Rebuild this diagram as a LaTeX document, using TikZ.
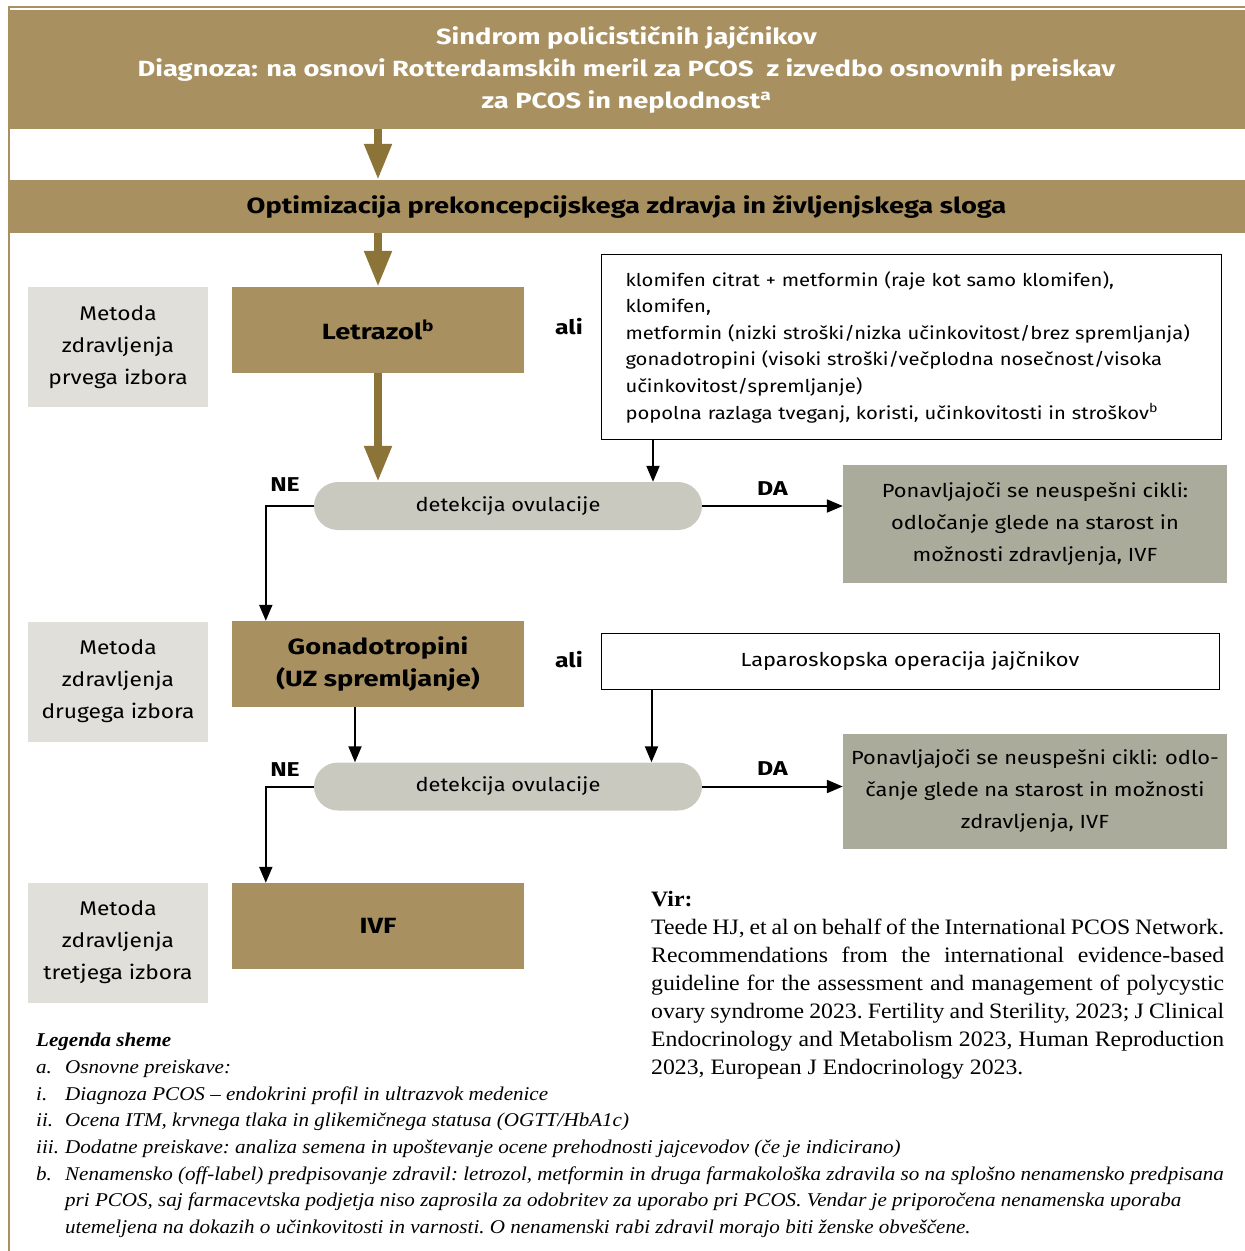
\documentclass[tikz,border=0pt]{standalone}
\usepackage{fontspec}
\setmainfont{Fira Sans}[FakeStretch=1.15, BoldFeatures={FakeStretch=1.24}]
\newfontfamily\virfont{Liberation Serif}[FakeStretch=1.08]
\usetikzlibrary{arrows.meta,positioning}

\definecolor{zlato}{HTML}{A89060}
\definecolor{zlatotemno}{HTML}{8C7338}
\definecolor{sivasvetla}{HTML}{E0DFD9}
\definecolor{sivapil}{HTML}{C9C9BF}
\definecolor{sivarez}{HTML}{ABAB9C}

\tikzset{
 glava/.style={fill=zlato, text=white, inner sep=0pt, align=center,
   minimum width=1237pt, minimum height=119pt,
   font=\fontsize{22}{32}\selectfont\bfseries},
 pas/.style={fill=zlato, inner sep=0pt, minimum width=1237pt, minimum height=53pt,
   font=\fontsize{22}{26}\selectfont\bfseries},
 metoda/.style={fill=sivasvetla, inner sep=0pt, align=center,
   minimum width=180pt, minimum height=120pt, font=\fontsize{19.8}{32}\selectfont},
 zdravilo/.style={fill=zlato, inner sep=0pt, align=center,
   minimum width=292pt, minimum height=86pt, font=\fontsize{22}{32}\selectfont\bfseries},
 okvir/.style={draw=black, line width=1pt, inner sep=0pt},
 detekcija/.style={fill=sivapil, rounded corners=24pt, inner sep=0pt,
   minimum width=388pt, minimum height=48pt, font=\fontsize{19}{24}\selectfont},
 izid/.style={fill=sivarez, inner sep=0pt, align=center,
   minimum width=384pt, font=\fontsize{19}{32}\selectfont},
 odg/.style={font=\fontsize{20}{24}\selectfont\bfseries, inner sep=0pt},
 zlpusc/.style={draw=zlatotemno, line width=8pt, -{Triangle[width=26pt,length=36pt]}},
 crpusc/.style={draw=black, line width=2pt, -{Triangle[width=13pt,length=16pt]}},
}

\begin{document}
\begin{tikzpicture}[x=1pt,y=-1pt]
 \useasboundingbox (0,0) rectangle (1245,1251);
 \draw[zlato, line width=2pt] (8.5,1251) -- (8.5,7) -- (1245,7);
 %
 \node[glava] (diag) at (626.5,69.5) {Sindrom policističnih jajčnikov\\
   Diagnoza: na osnovi Rotterdamskih meril za PCOS\ \ z izvedbo osnovnih preiskav\\
   za PCOS in neplodnost\textsuperscript{a}};
 \node[pas] (opt) at (626.5,206.5) {Optimizacija prekoncepcijskega zdravja in življenjskega sloga};
 %
 \node[metoda] (met1) at (118,347) {Metoda\\zdravljenja\\prvega izbora};
 \node[metoda] (met2) at (118,681.5) {Metoda\\zdravljenja\\drugega izbora};
 \node[metoda] (met3) at (118,942.5) {Metoda\\zdravljenja\\tretjega izbora};
 %
 \node[zdravilo] (letr) at (378,330) {Letrazol\textsuperscript{b}};
 \node[zdravilo] (gon) at (378,664) {Gonadotropini\\(UZ spremljanje)};
 \node[zdravilo] (ivf) at (378,926) {IVF};
 %
 \node[odg] (ali1) at (569,327) {ali};
 \node[odg] (ali2) at (569,660) {ali};
 %
 \node[okvir, anchor=north west, minimum height=185pt, text width=572pt,
   inner xsep=24pt, align=left, font=\fontsize{17.6}{26.6}\selectfont] (moz1) at (601,254)
   {klomifen citrat + metformin (raje kot samo klomifen),\\
    klomifen,\\
    metformin (nizki stroški/nizka učinkovitost/brez spremljanja)\\
    gonadotropini (visoki stroški/večplodna nosečnost/visoka\\
    učinkovitost/spremljanje)\\
    popolna razlaga tveganj, koristi, učinkovitosti in stroškov\textsuperscript{b}};
 \node[okvir, minimum width=618pt, minimum height=56pt,
   font=\fontsize{19}{24}\selectfont] (lap) at (910,661) {Laparoskopska operacija jajčnikov};
 %
 \node[detekcija] (pil1) at (508,506) {detekcija ovulacije};
 \node[detekcija] (pil2) at (508,786.5) {detekcija ovulacije};
 %
 \node[izid, minimum height=118pt] (rez1) at (1035,524)
   {Ponavljajoči se neuspešni cikli:\\odločanje glede na starost in\\možnosti zdravljenja, IVF};
 \node[izid, minimum height=115pt] (rez2) at (1035,791.5)
   {Ponavljajoči se neuspešni cikli: odlo-\\čanje glede na starost in možnosti\\zdravljenja, IVF};
 %
 \draw[zlpusc] (diag.south -| letr.north) -- (opt.north -| letr.north);
 \draw[zlpusc] (opt.south -| letr.north) -- (letr.north);
 \draw[zlpusc] (letr.south) -- (letr.south |- pil1.north);
 %
 \draw[crpusc] ([xshift=52pt]moz1.south west) -- ([xshift=52pt]moz1.south west |- pil1.north);
 \draw[crpusc] (pil1.east) -- node[odg, above=10pt]{DA} (pil1.east -| rez1.west);
 \draw[crpusc] (pil1.west) -| node[odg, pos=0.3, above=14pt]{NE} ([xshift=34pt]gon.north west);
 %
 \draw[crpusc] ([xshift=-23pt]gon.south) -- ([xshift=-23pt]gon.south |- pil2.north);
 \draw[crpusc] ([xshift=51pt]lap.south west) -- ([xshift=51pt]lap.south west |- pil2.north);
 \draw[crpusc] (pil2.east) -- node[odg, above=10pt]{DA} (pil2.east -| rez2.west);
 \draw[crpusc] (pil2.west) -| node[odg, pos=0.3, above=9pt]{NE} ([xshift=34pt]ivf.north west);
 %
 \node[anchor=north west, inner sep=0pt, text width=573pt, align=justify,
   font=\virfont\fontsize{22}{28}\selectfont\frenchspacing] (vir) at (651,891)
   {\textbf{Vir:}\\
    Teede HJ, et al on behalf of the International PCOS Network.\linebreak
    Recommendations from the international evidence-based\linebreak
    guideline for the assessment and management of polycystic\linebreak
    ovary syndrome 2023. Fertility and Sterility, 2023; J Clinical\linebreak
    Endocrinology and Metabolism 2023, Human Reproduction\linebreak
    2023, European J Endocrinology 2023.};
 %
 \node[anchor=north west, inner sep=0pt, align=left,
   font=\virfont\itshape\fontsize{19.5}{26.7}\selectfont\frenchspacing] (leg) at (36,1033)
   {\textbf{Legenda sheme}\\
    \makebox[29pt][l]{a.}Osnovne preiskave:\\
    \makebox[29pt][l]{i.}Diagnoza PCOS – endokrini profil in ultrazvok medenice\\
    \makebox[29pt][l]{ii.}Ocena ITM, krvnega tlaka in glikemičnega statusa (OGTT/HbA1c)\\
    \makebox[29pt][l]{iii.}Dodatne preiskave: analiza semena in upoštevanje ocene prehodnosti jajcevodov (če je indicirano)\\
    \makebox[29pt][l]{b.}Nenamensko (off-label) predpisovanje zdravil: letrozol, metformin in druga farmakološka zdravila so na splošno nenamensko predpisana\\
    \hspace*{29pt}pri PCOS, saj farmacevtska podjetja niso zaprosila za odobritev za uporabo pri PCOS. Vendar je priporočena nenamenska uporaba\\
    \hspace*{29pt}utemeljena na dokazih o učinkovitosti in varnosti. O nenamenski rabi zdravil morajo biti ženske obveščene.};
\end{tikzpicture}
\end{document}
